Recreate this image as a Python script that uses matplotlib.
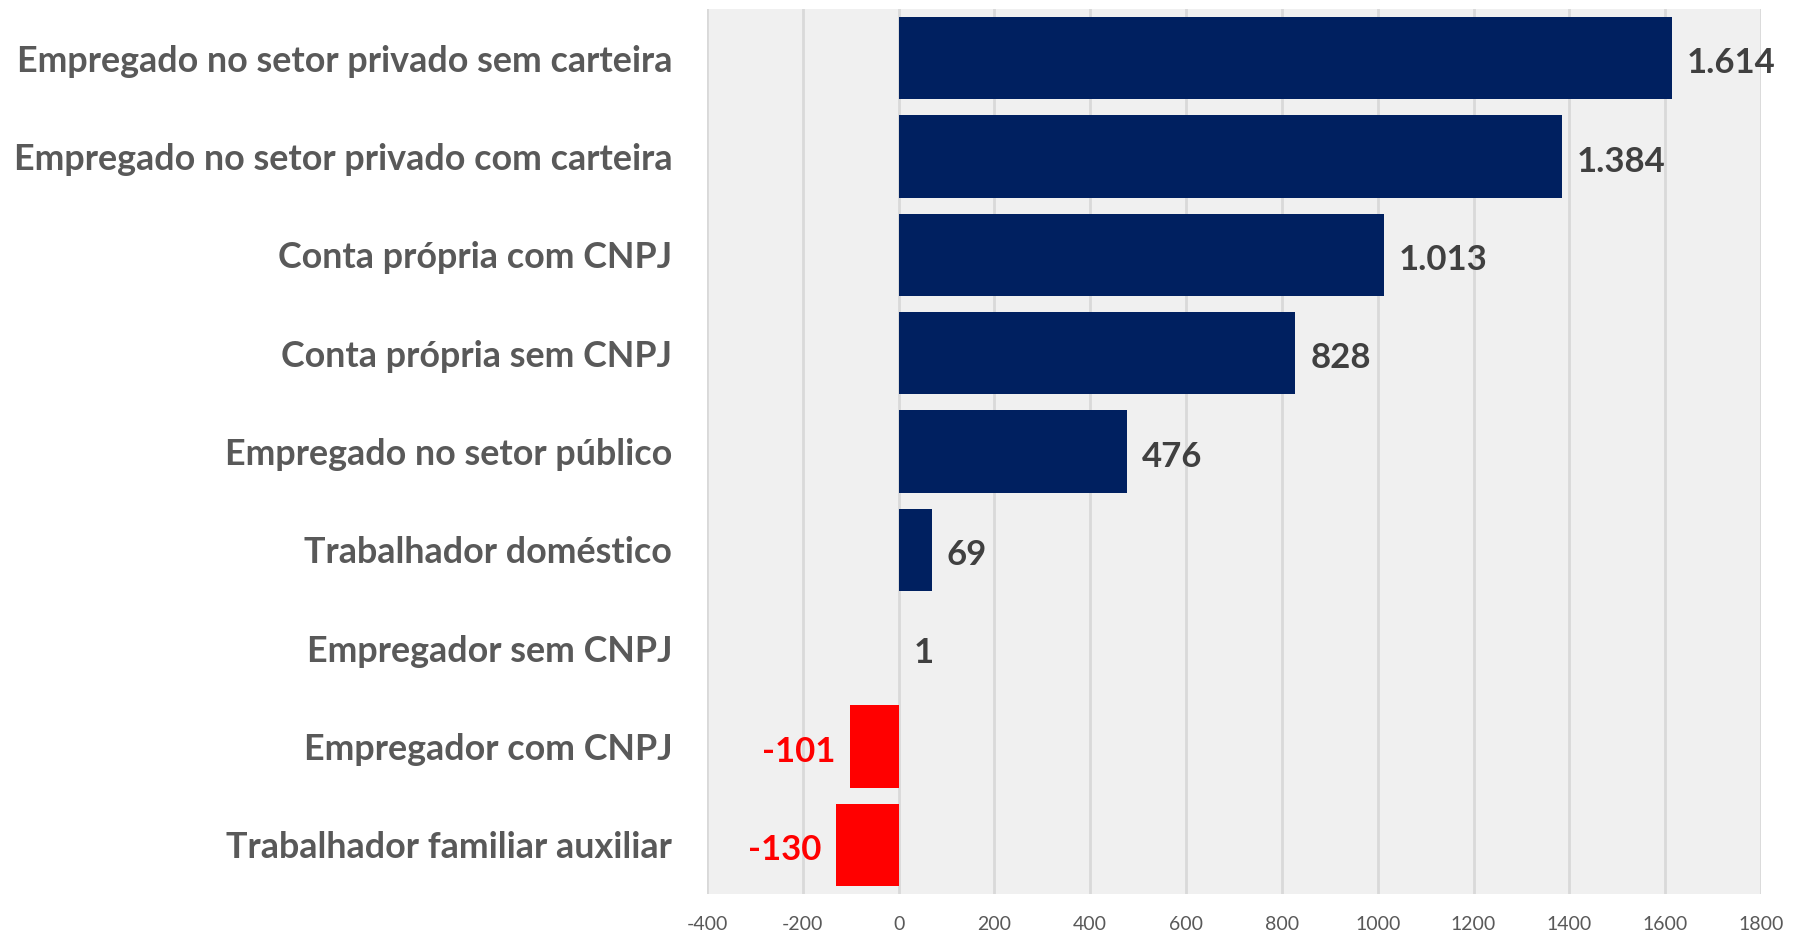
import matplotlib
matplotlib.use("Agg")
from matplotlib import pyplot as plt

categorias = [
    "Empregado no setor privado sem carteira",
    "Empregado no setor privado com carteira",
    "Conta própria com CNPJ",
    "Conta própria sem CNPJ",
    "Empregado no setor público",
    "Trabalhador doméstico",
    "Empregador sem CNPJ",
    "Empregador com CNPJ",
    "Trabalhador familiar auxiliar",
]
valores = [1614, 1384, 1013, 828, 476, 69, 1, -101, -130]
rotulos = ["1.614", "1.384", "1.013", "828", "476", "69", "1", "-101", "-130"]
xticks = list(range(-400, 1801, 200))

azul = "#002060"
vermelho = "#ff0000"

plt.rcParams["font.family"] = ["Lato", "DejaVu Sans"]

fig = plt.figure(figsize=(18.03, 9.43), dpi=100)
ax = fig.add_axes([707 / 1803, 49 / 943, 1054 / 1803, 885 / 943])
ax.set_facecolor("#f0f0f0")

y = list(range(len(categorias)))
cores = [azul if v >= 0 else vermelho for v in valores]
ax.barh(y, valores, height=0.84, color=cores, zorder=2)

ax.set_xlim(-400, 1800)
ax.set_ylim(len(categorias) - 0.5, -0.5)
ax.set_xticks(xticks)
ax.set_xticklabels([str(t) for t in xticks], fontsize=14, color="#595959")
ax.tick_params(axis="x", length=0, pad=16)
ax.set_yticks(y)
ax.set_yticklabels(categorias, fontsize=25.8, fontweight="bold", color="#595959")
ax.tick_params(axis="y", length=0, pad=25)
ax.grid(axis="x", color="#d9d9d9", linewidth=2, zorder=1)
for s in ax.spines.values():
    s.set_visible(False)

for yi, v, txt in zip(y, valores, rotulos):
    if v >= 0:
        ax.annotate(txt, (v, yi), xytext=(15, -5), textcoords="offset pixels",
                    ha="left", va="center", fontsize=25, fontweight="bold",
                    color="#404040", annotation_clip=False)
    else:
        ax.annotate(txt, (v, yi), xytext=(-15, -5), textcoords="offset pixels",
                    ha="right", va="center", fontsize=25, fontweight="bold",
                    color=vermelho, annotation_clip=False)

fig.savefig("out.png", dpi=100)
